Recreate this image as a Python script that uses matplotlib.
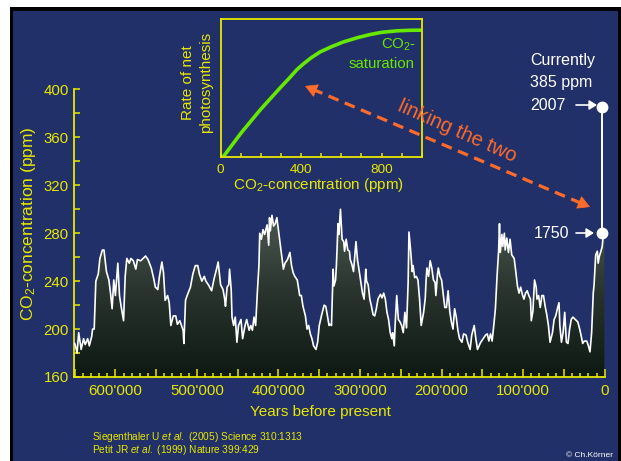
import numpy as np
import matplotlib
matplotlib.use("Agg")
import matplotlib.pyplot as plt
from matplotlib.patches import Rectangle, Polygon, FancyArrowPatch
from matplotlib.lines import Line2D
from matplotlib.colors import LinearSegmentedColormap

plt.rcParams['font.family'] = ['Liberation Sans', 'DejaVu Sans']
plt.rcParams['mathtext.fontset'] = 'custom'
plt.rcParams['mathtext.rm'] = 'Liberation Sans'
plt.rcParams['mathtext.it'] = 'Liberation Sans:italic'

# ---------------- data ----------------
age_kyr = [650, 649, 647, 645, 642, 639, 637, 634, 632, 629, 628, 626, 624, 621, 619, 616, 614, 611,
           608, 606, 604, 602, 600, 597, 595, 593, 590, 588, 586, 583, 581, 578, 575, 573, 569, 566,
           563, 560, 556, 553, 551, 548, 546, 543, 541, 539, 536, 534, 532, 529, 526, 524, 521, 519,
           517, 516, 514, 512, 508, 505, 502, 499, 497,
           494, 491, 489, 486, 482, 479, 476, 474, 471, 468, 466, 465, 463, 461, 460, 458, 457, 455,
           453, 451, 449, 446, 444, 441, 439, 436, 434, 432, 430, 428, 426, 424, 423, 421, 419, 417,
           414, 412, 411, 410, 408, 406, 404, 402, 399, 397, 394, 392, 389, 386, 384, 382, 380, 377,
           374, 372, 370, 367, 365, 363, 361, 359, 357, 354, 352, 350, 347, 344, 342, 340, 338,
           337, 335, 333, 332, 330, 329, 327, 326, 324, 322, 320, 319, 317, 315, 313, 312, 310, 308,
           306, 305, 303, 302, 299, 297, 295, 293, 292, 290, 288, 286, 284, 282, 280, 278, 275, 273,
           271, 269, 267, 265, 263, 261, 260, 258, 257, 255, 253, 251, 249, 247, 245, 243, 241, 240,
           238, 236, 235, 233, 231, 229, 227, 225, 222, 220, 219, 218, 216, 214, 212, 210, 208, 207,
           205, 204, 202, 200, 198, 196, 194, 192, 190, 188, 186, 184, 182, 180, 178,
           175, 173, 170, 168, 165, 163, 160, 158, 156, 152, 149, 146, 144, 142, 140, 138, 136, 134,
           132, 130, 129, 128, 126, 125, 123, 122, 120, 118, 116, 114, 111, 109, 107, 105, 103, 101,
           99, 97, 95, 93, 91, 90, 88, 86, 84, 83, 81, 79, 77, 75, 73, 71, 69, 67, 64, 62, 60, 58,
           56, 55, 53, 51, 49, 47, 45, 43, 41, 39, 36, 33, 31, 29, 27, 25, 22, 20, 18, 16, 14, 13,
           11, 9, 8, 6.5, 5, 3, 2, 0.4]
co2_ppm = [188, 186, 180, 197, 183, 192, 187, 192, 186, 194, 200, 200, 240, 246, 259, 266, 266, 248,
           241, 230, 217, 241, 228, 255, 228, 219, 207, 244, 259, 255, 259, 257, 250, 258, 257, 259,
           261, 258, 251, 242, 235, 233, 244, 256, 247, 224, 228, 222, 203, 211, 211, 204, 207, 203,
           199, 188, 224, 228, 235, 246, 253, 253, 246,
           240, 244, 240, 237, 232, 242, 250, 256, 237, 233, 225, 219, 235, 237, 250, 233, 210, 203,
           210, 189, 203, 208, 192, 203, 208, 199, 203, 199, 210, 203, 230, 253, 280, 275, 283, 279,
           287, 270, 293, 282, 295, 286, 288, 293, 277, 266, 250, 255, 258, 264, 253, 247, 244, 241,
           228, 228, 219, 211, 200, 203, 196, 192, 186, 183, 189, 203, 212, 220, 219, 211, 203,
           204, 203, 250, 236, 241, 253, 288, 279, 300, 275, 273, 265, 275, 266, 265, 258, 254, 248,
           264, 273, 257, 253, 239, 230, 225, 250, 240, 237, 225, 219, 212, 211, 217, 225, 229, 226,
           230, 225, 214, 208, 197, 192, 197, 186, 203, 228, 208, 206, 203, 197, 214, 201, 239, 281,
           266, 248, 253, 243, 244, 241, 225, 203, 214, 226, 241, 251, 244, 257, 251, 241, 239, 228,
           246, 251, 244, 241, 229, 218, 218, 232, 215, 206, 200, 217, 210, 199, 192,
           189, 196, 195, 189, 183, 195, 203, 192, 183, 189, 192, 195, 196, 190, 196, 190, 203, 217,
           244, 266, 288, 264, 279, 269, 280, 266, 276, 264, 275, 262, 259, 248, 236, 230, 235, 229,
           225, 230, 232, 228, 225, 207, 215, 241, 235, 225, 228, 218, 228, 228, 219, 212, 203, 189,
           197, 208, 211, 217, 222, 203, 189, 197, 214, 189, 188, 200, 208, 210, 208, 206, 201, 195,
           188, 190, 190, 186, 181, 197, 230, 237, 262, 265, 255, 261, 264, 269, 277, 281]

xtick_values = [600000, 500000, 400000, 300000, 200000, 100000, 0]
xtick_labels = ["600'000", "500'000", "400'000", "300'000", "200'000", "100'000", "0"]
ytick_values = [160, 200, 240, 280, 320, 360, 400]

marker_labels = ["1750", "2007"]
marker_co2 = [280, 385]

# CO2 response curve of photosynthesis (inset)
inset_co2 = [13, 100, 196, 295, 340, 380, 411, 450, 494, 550, 610, 680, 743, 800, 876, 940, 1000]
inset_rate = [0.0, 0.17, 0.34, 0.50, 0.57, 0.635, 0.675, 0.72, 0.762, 0.80, 0.835, 0.866,
              0.889, 0.905, 0.916, 0.92, 0.921]
inset_tick_values = [0, 400, 800]

# ---------------- style ----------------
W, H = 621, 461
NAVY = '#213068'
YEL = '#e8e800'
ORANGE = '#ff6b2b'
LIME = '#66e800'

def fx(x):
    return x / W

def fy(y):
    return 1 - y / H

fig = plt.figure(figsize=(W / 100, H / 100), dpi=100, facecolor='white')
fig.add_artist(Rectangle((fx(10), 0), 1, fy(7), transform=fig.transFigure,
                         facecolor='black', edgecolor='none', zorder=-3))
fig.add_artist(Rectangle((fx(13), 0), fx(618) - fx(13), fy(11), transform=fig.transFigure,
                         facecolor=NAVY, edgecolor='none', zorder=-2))

# ---------------- main axes ----------------
L, R, T, B = 74.3, 605.0, 89.5, 377.0
ax = fig.add_axes([fx(L), fy(B), fx(R) - fx(L), (B - T) / H])
ax.set_facecolor('none')
XMAX, XMIN = 650400, -400

ages = np.array(age_kyr) * 1000.0
vals = np.array(co2_ppm, dtype=float)

verts = [(ages[0], 160)] + list(zip(ages, vals)) + [(ages[-1], 160)]
poly = Polygon(verts, closed=True, facecolor='none', edgecolor='none', transform=ax.transData)
ax.add_patch(poly)
cmap = LinearSegmentedColormap.from_list('g', ['#0d1912', '#28342d', '#4f5c54'])
grad = np.linspace(0, 1, 256).reshape(-1, 1)
im = ax.imshow(grad, extent=(XMAX, XMIN, 160, 302), origin='lower', cmap=cmap,
               aspect='auto', zorder=1, interpolation='bilinear')
im.set_clip_path(poly)
ax.plot(ages, vals, color='white', lw=1.2, zorder=3)

# 1750 -> 2007 vertical rise
mx = [3000, 3000]
ax.plot(mx, marker_co2, color='white', lw=1.4, zorder=4, clip_on=False)
ax.plot(mx, marker_co2, 'o', color='white', ms=7.5, zorder=5, clip_on=False)

ax.set_xlim(XMAX, XMIN)
ax.set_ylim(160, 400)
for s in ['top', 'right']:
    ax.spines[s].set_visible(False)
for s in ['left', 'bottom']:
    ax.spines[s].set_color(YEL)
    ax.spines[s].set_linewidth(1.3)

ax.set_xticks(np.arange(0, 650001, 50000))
ax.set_xticklabels([xtick_labels[xtick_values.index(v)] if v in xtick_values else ''
                    for v in np.arange(0, 650001, 50000)])
ax.set_xticks(np.arange(0, 650001, 10000), minor=True)
ax.set_yticks(ytick_values)
ax.set_yticks(np.arange(180, 400, 40), minor=True)
ax.tick_params(axis='x', which='major', direction='in', length=5.5, width=1.1, color=YEL,
               labelcolor=YEL, labelsize=10.8, pad=5)
ax.tick_params(axis='x', which='minor', direction='in', length=3, width=1.1, color=YEL)
ax.tick_params(axis='y', which='both', direction='in', length=4.5, width=1.1, color=YEL,
               labelcolor=YEL, labelsize=10.8, pad=4)

fig.text(fx(28.5), fy(224), 'CO$_2$-concentration (ppm)', rotation=90, ha='center', va='center',
         color=YEL, fontsize=12.5)
fig.text(fx(320), fy(412), 'Years before present', ha='center', va='center', color=YEL, fontsize=11)

# ---------------- inset ----------------
iL, iR, iT, iB = 220.7, 421.7, 19.3, 156.7
ax2 = fig.add_axes([fx(iL), fy(iB), fx(iR) - fx(iL), (iB - iT) / H])
ax2.set_facecolor('none')
ax2.plot(inset_co2, inset_rate, color=LIME, lw=2.6, solid_capstyle='butt',
         solid_joinstyle='round')
ax2.set_xlim(0, 1000)
ax2.set_ylim(0, 1)
for s in ax2.spines.values():
    s.set_color(YEL)
    s.set_linewidth(1.3)
ax2.set_xticks(np.arange(0, 1001, 100))
ax2.set_xticklabels([str(v) if v in inset_tick_values else '' for v in np.arange(0, 1001, 100)])
ax2.set_yticks([])
ax2.tick_params(axis='x', direction='in', length=3, width=1.1, color=YEL, labelcolor=YEL,
                labelsize=9.7, pad=5)
fig.text(fx(319), fy(185), 'CO$_2$-concentration (ppm)', ha='center', va='center',
         color=YEL, fontsize=11)
fig.text(fx(197), fy(82.5), 'Rate of net\nphotosynthesis', rotation=90, ha='center', va='center',
         color=YEL, fontsize=11, linespacing=1.35, multialignment='center')
fig.text(fx(416), fy(45), 'CO$_2$-', ha='right', va='center', color=LIME, fontsize=10.8)
fig.text(fx(415), fy(64), 'saturation', ha='right', va='center', color=LIME, fontsize=10.8)

# ---------------- linking arrow ----------------
p1 = (305, 86)
p2 = (590, 207)
d = np.array(p2) - np.array(p1)
u = d / np.hypot(*d)
a_start = np.array(p1) + u * 8
a_end = np.array(p2) - u * 8
fig.add_artist(Line2D([fx(a_start[0]), fx(a_end[0])], [fy(a_start[1]), fy(a_end[1])],
                      transform=fig.transFigure, color=ORANGE, lw=2.3, dashes=(3.4, 2.1)))
for tip, back in [(p1, np.array(p1) + u * 12), (p2, np.array(p2) - u * 12)]:
    fig.add_artist(FancyArrowPatch((fx(back[0]), fy(back[1])), (fx(tip[0]), fy(tip[1])),
                                   transform=fig.transFigure,
                                   arrowstyle='-|>,head_length=0.8,head_width=0.45',
                                   mutation_scale=10, color=ORANGE, lw=0.5,
                                   shrinkA=0, shrinkB=0))
fig.text(fx(457), fy(131), 'linking the two', rotation=-24, ha='center', va='center',
         color=ORANGE, fontsize=14.5, rotation_mode='anchor')

# ---------------- present-day annotations ----------------
fig.text(fx(530), fy(61), 'Currently', ha='left', va='center', color='white', fontsize=11.5)
fig.text(fx(530), fy(83), '385 ppm', ha='left', va='center', color='white', fontsize=11.5)
fig.text(fx(530), fy(105), marker_labels[1], ha='left', va='center', color='white', fontsize=11.5)
fig.text(fx(534), fy(233), marker_labels[0], ha='left', va='center', color='white', fontsize=11.5)
for (xa, xb, yy) in [(576, 597, 105), (576, 594, 233)]:
    fig.add_artist(FancyArrowPatch((fx(xa), fy(yy)), (fx(xb), fy(yy)), transform=fig.transFigure,
                                   arrowstyle='-|>,head_length=0.45,head_width=0.28',
                                   mutation_scale=10, color='white', lw=1.2,
                                   shrinkA=0, shrinkB=0))

# ---------------- sources ----------------
fig.text(fx(92), fy(437), r'Siegenthaler U $\it{et\ al.}$ (2005) Science 310:1313', ha='left',
         va='center', color=YEL, fontsize=7.3)
fig.text(fx(92), fy(449.5), r'Petit JR $\it{et\ al.}$ (1999) Nature 399:429', ha='left',
         va='center', color=YEL, fontsize=7.3)
fig.text(fx(566), fy(455), '© Ch.Körner', ha='left', va='center', color='white', fontsize=6)

fig.savefig('out.png', dpi=100)
